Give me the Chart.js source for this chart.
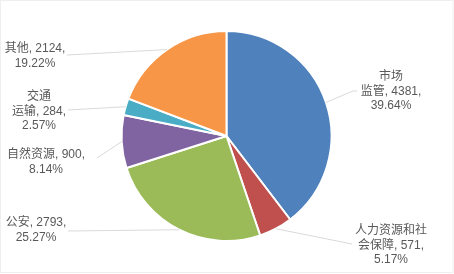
<!DOCTYPE html>
<html>
<head>
<meta charset="utf-8">
<script src="https://cdn.jsdelivr.net/npm/chart.js@4.4.1/dist/chart.umd.min.js"></script>
<style>
    html, body { margin: 0; padding: 0; background: #fff; }
    #wrap { width: 454px; height: 274px; }
</style>
</head>
<body>
<div id="wrap"><canvas id="myChart" width="454" height="274"></canvas></div>
<script>
const categories = ["市场监管", "人力资源和社会保障", "公安", "自然资源", "交通运输", "其他"];
const values = [4381, 571, 2793, 900, 284, 2124];
const colors = ["#4F81BD", "#C0504D", "#9BBB59", "#8064A2", "#4BACC6", "#F79646"];

// where each label sits (text centre x, first line y), where its leader line stops,
// and after how many characters the category name wraps (0 = no wrap)
const labelLayout = [
    { x: 391, y: 77, lineX: 353, lineY: 91, wrap: 2, tail: 357 },
    { x: 391, y: 231, lineX: 352, lineY: 244, wrap: 6 },
    { x: 36, y: 223, lineX: 68, lineY: 231, wrap: 0 },
    { x: 46, y: 155, lineX: 97, lineY: 158, wrap: 0 },
    { x: 39, y: 97, lineX: 68, lineY: 110, wrap: 2 },
    { x: 35, y: 49, lineX: 67, lineY: 55, wrap: 0 },
];

const total = values.reduce((a, b) => a + b, 0);

function labelLines(i) {
    const name = categories[i];
    const pct = (values[i] / total * 100).toFixed(2) + "%";
    const w = labelLayout[i].wrap;
    if (w > 0) {
        return [name.slice(0, w), name.slice(w) + ", " + values[i] + ",", pct];
    }
    return [name + ", " + values[i] + ",", pct];
}

const pieLabels = {
    id: "pieLabels",
    afterDatasetsDraw(chart) {
        const ctx = chart.ctx;
        const arcs = chart.getDatasetMeta(0).data;
        ctx.save();
        arcs.forEach((arc, i) => {
            const p = arc.getProps(["x", "y", "startAngle", "endAngle", "outerRadius"], true);
            const mid = (p.startAngle + p.endAngle) / 2;
            const ex = p.x + Math.cos(mid) * p.outerRadius;
            const ey = p.y + Math.sin(mid) * p.outerRadius;
            const lay = labelLayout[i];
            // leader line
            ctx.strokeStyle = "#D9D9D9";
            ctx.lineWidth = 1;
            ctx.beginPath();
            ctx.moveTo(ex, ey);
            ctx.lineTo(lay.lineX, lay.lineY);
            if (lay.tail) ctx.lineTo(lay.tail, lay.lineY);
            ctx.stroke();
            // text
            ctx.fillStyle = "#595959";
            ctx.font = "12px 'Liberation Sans', 'Noto Sans CJK SC', sans-serif";
            ctx.textAlign = "center";
            ctx.textBaseline = "middle";
            labelLines(i).forEach((line, k) => {
                ctx.fillText(line, lay.x, lay.y + k * 14.5);
            });
        });
        // faint frame like the original chart area border
        ctx.strokeStyle = "#EFEFEF";
        ctx.strokeRect(0.5, 0.5, chart.width - 1.5, chart.height - 2);
        ctx.restore();
    },
};

document.addEventListener("DOMContentLoaded", function () {
    const ctx = document.getElementById("myChart").getContext("2d");
    new Chart(ctx, {
        type: "pie",
        data: {
            labels: categories,
            datasets: [
                {
                    data: values,
                    backgroundColor: colors,
                    borderColor: "#FFFFFF",
                    borderWidth: 2,
                },
            ],
        },
        options: {
            responsive: false,
            animation: false,
            layout: {
                padding: { left: 120.5, right: 121.5, top: 30, bottom: 32 },
            },
            plugins: {
                legend: { display: false },
                tooltip: { enabled: false },
            },
        },
        plugins: [pieLabels],
    });
});
</script>
</body>
</html>
